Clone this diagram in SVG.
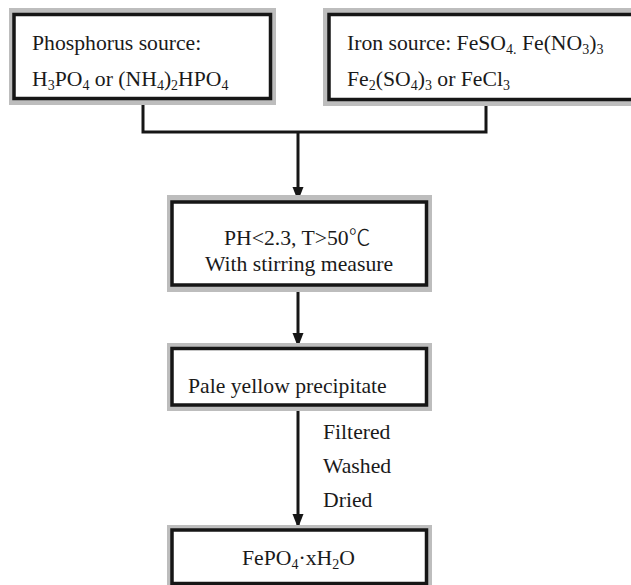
<svg xmlns="http://www.w3.org/2000/svg" width="631" height="585" viewBox="0 0 631 585">
<style>
.shadow{fill:#bdbdbd}
.box{fill:#fff;stroke:#161616;stroke-width:3.5}
.t{font-family:"Liberation Serif","DejaVu Serif",serif;font-size:21.7px;fill:#1a1a1a}
.s{font-size:14px}
.cjk{font-family:"Noto Sans CJK SC","Liberation Serif",sans-serif;font-weight:300}
.line{fill:none;stroke:#161616;stroke-width:3}
</style>
<defs>
<marker id="arr" viewBox="0 0 14 12" refX="14" refY="6" markerWidth="14" markerHeight="12" markerUnits="userSpaceOnUse" orient="auto">
<path d="M0,0.5 L14,6 L0,11.5 Z" fill="#161616"/>
</marker>
</defs>
<rect width="631" height="585" fill="#fff"/>
<g id="connectors">
<polyline class="line" points="143,100 143,132 486,132 486,101"/>
<line class="line" x1="298" y1="132" x2="298" y2="201" marker-end="url(#arr)"/>
<line class="line" x1="298" y1="287" x2="298" y2="347" marker-end="url(#arr)"/>
<line class="line" x1="298" y1="407" x2="298" y2="528" marker-end="url(#arr)"/>
<text class="t" x="323" y="439">Filtered</text>
<text class="t" x="323" y="473">Washed</text>
<text class="t" x="323" y="507">Dried</text>
</g>
<g id="phosphorus">
<rect class="shadow" x="9" y="8" width="267" height="97"/>
<rect class="box" x="14" y="14.5" width="256.5" height="84"/>
<text class="t" x="32" y="50">Phosphorus source:</text>
<text class="t" x="32" y="86">H<tspan class="s" dy="4">3</tspan><tspan dy="-4">PO</tspan><tspan class="s" dy="4">4</tspan><tspan dy="-4"> or (NH</tspan><tspan class="s" dy="4">4</tspan><tspan dy="-4">)</tspan><tspan class="s" dy="4">2</tspan><tspan dy="-4">HPO</tspan><tspan class="s" dy="4">4</tspan></text>
</g>
<g id="iron">
<rect class="shadow" x="323" y="8" width="320" height="98"/>
<rect class="box" x="329" y="14.5" width="310" height="85"/>
<text class="t" x="347" y="50">Iron source: FeSO<tspan class="s" dy="4">4.</tspan><tspan dy="-4"> Fe(NO</tspan><tspan class="s" dy="4">3</tspan><tspan dy="-4">)</tspan><tspan class="s" dy="4">3</tspan></text>
<text class="t" x="347" y="86">Fe<tspan class="s" dy="4">2</tspan><tspan dy="-4">(SO</tspan><tspan class="s" dy="4">4</tspan><tspan dy="-4">)</tspan><tspan class="s" dy="4">3</tspan><tspan dy="-4"> or FeCl</tspan><tspan class="s" dy="4">3</tspan></text>
</g>
<g id="conditions">
<rect class="shadow" x="167" y="195" width="265" height="97"/>
<rect class="box" x="172" y="202" width="254.5" height="83"/>
<text class="t" x="224" y="245">PH&lt;2.3, T&gt;50<tspan class="cjk">℃</tspan></text>
<text class="t" x="299" y="271" text-anchor="middle">With stirring measure</text>
</g>
<g id="precipitate">
<rect class="shadow" x="167" y="343" width="265" height="68"/>
<rect class="box" x="172" y="348.5" width="254.5" height="56.5"/>
<text class="t" x="188" y="393">Pale yellow precipitate</text>
</g>
<g id="product">
<rect class="shadow" x="167" y="525" width="265" height="70"/>
<rect class="box" x="172" y="530" width="254.5" height="53.5"/>
<text class="t" x="242" y="565">FePO<tspan class="s" dy="4">4</tspan><tspan dy="-4">·xH</tspan><tspan class="s" dy="4">2</tspan><tspan dy="-4">O</tspan></text>
</g>
</svg>
